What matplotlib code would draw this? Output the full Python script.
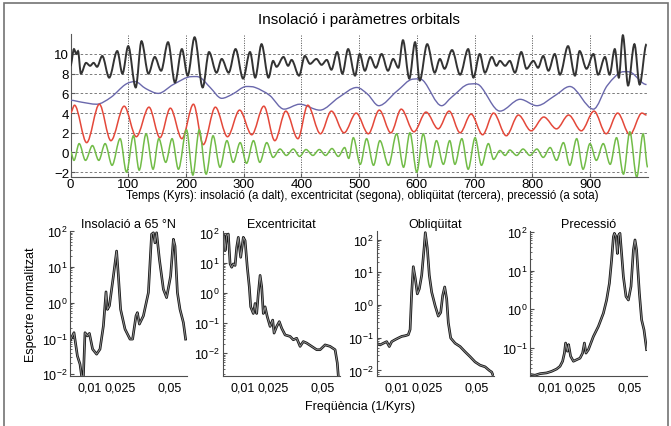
import numpy as np
import matplotlib.pyplot as plt
from matplotlib.patches import Rectangle, PathPatch
from matplotlib.path import Path

plt.rcParams['font.family'] = ['Liberation Sans', 'DejaVu Sans']

# ---- top panel: time series (kyr, offset value) ----
ins_t = [0, 6, 10, 13, 18, 27, 34, 40, 46, 55, 67, 81, 90, 100, 113, 123, 135, 146, 157, 169,
         181, 193, 203, 215, 229, 240, 253, 262, 274, 286, 299, 311, 320, 331, 343, 351, 357, 369,
         377, 383, 396, 406, 415, 426, 435, 444, 452, 462, 471, 481, 493, 501, 510, 519, 529, 539,
         550, 559, 568, 576, 587, 597, 605, 618, 631, 640, 648, 661, 675, 689, 698, 709, 718, 730,
         738, 744, 753, 761, 770, 781, 790, 802, 810, 819, 828, 839, 848, 862, 874, 882, 894, 906,
         914, 926, 934, 943, 950, 957, 966, 977, 986, 998]
ins_v = [8.8, 10.5, 10.0, 10.3, 8.0, 9.1, 8.8, 9.1, 8.7, 9.8, 7.6, 10.3, 8.0, 10.8, 6.6, 11.3, 8.0,
         9.7, 8.3, 11.2, 7.1, 10.5, 7.8, 11.7, 6.6, 10.2, 8.1, 9.5, 8.1, 10.5, 7.5, 10.2, 7.6, 11.0,
         7.6, 9.3, 8.7, 9.7, 8.8, 9.4, 7.8, 9.8, 9.0, 9.5, 8.9, 9.4, 8.4, 10.2, 8.0, 10.5, 7.8, 10.0,
         8.3, 9.7, 8.6, 10.0, 8.3, 9.5, 8.6, 11.4, 7.5, 11.2, 7.3, 11.0, 8.1, 9.5, 8.5, 10.4, 7.9,
         10.5, 7.6, 10.0, 8.1, 9.7, 8.8, 9.3, 8.8, 9.3, 8.1, 10.2, 8.5, 9.3, 8.6, 9.8, 8.3, 10.0, 7.9,
         10.8, 7.8, 10.3, 8.5, 10.0, 7.9, 9.7, 7.9, 10.5, 7.6, 11.9, 6.8, 11.0, 6.9, 11.0]

ecc_t = [0, 20, 45, 70, 95, 112, 130, 152, 178, 210, 225, 242, 262, 280, 305, 320, 345, 370, 397,
         432, 465, 496, 515, 534, 565, 594, 611, 643, 660, 692, 709, 744, 779, 808, 840, 865, 906,
         930, 958, 972, 998]
ecc_v = [5.3, 5.1, 4.9, 5.6, 6.9, 7.2, 6.5, 6.0, 6.9, 7.7, 7.6, 6.6, 5.5, 5.9, 6.7, 6.6, 5.8, 4.4,
         4.9, 4.3, 5.6, 6.6, 5.9, 4.75, 6.2, 7.45, 7.3, 4.75, 5.6, 6.95, 6.8, 4.2, 5.4, 4.75, 5.8,
         6.7, 4.4, 6.8, 8.2, 8.1, 6.9]

obl_t = [0, 7, 28, 50, 70, 93, 114, 136, 155, 173, 193, 213, 230, 251, 272, 293, 314, 335, 354,
         373, 394, 411, 433, 452, 474, 495, 516, 535, 555, 573, 595, 616, 637, 656, 675, 694, 714,
         733, 755, 776, 798, 820, 842, 863, 885, 907, 928, 948, 969, 990, 998]
obl_v = [4.0, 4.8, 1.0, 4.9, 1.2, 4.7, 1.6, 4.6, 1.5, 4.5, 1.4, 4.9, 0.8, 4.6, 1.6, 4.3, 1.8, 4.7,
         1.2, 4.2, 1.4, 4.8, 1.9, 4.2, 2.0, 4.0, 1.9, 4.3, 2.0, 4.4, 2.1, 4.1, 2.4, 4.2, 2.0, 3.9,
         1.8, 4.0, 1.7, 3.8, 2.2, 3.6, 2.4, 3.8, 2.2, 4.2, 1.9, 4.0, 1.8, 4.0, 3.8]

pre_t = [0, 6, 15, 26, 38, 49, 60, 72, 86, 97, 109, 119, 131, 143, 153, 165, 176, 187, 201, 212,
         223, 235, 247, 259, 271, 282, 294, 305, 317, 328, 340, 351, 363, 374, 386, 397, 408, 420,
         431, 442, 453, 464, 475, 482, 490, 502, 513, 525, 536, 551, 565, 577, 588, 600, 611, 623,
         634, 646, 657, 666, 678, 689, 701, 712, 724, 733, 744, 753, 761, 773, 784, 796, 808, 819,
         831, 842, 854, 865, 877, 888, 900, 911, 923, 935, 946, 958, 969, 981, 992, 1000]
pre_v = [0.1, -0.8, 0.9, -0.8, 0.7, -0.8, 0.9, -1.3, 1.4, -2.0, 1.7, -1.8, 1.9, -1.7, 1.4, -1.0,
         1.4, -1.7, 2.3, -2.3, 2.3, -2.2, 1.7, -1.5, 1.2, -1.0, 1.0, -1.1, 1.2, -1.0, 1.0, -0.5,
         0.35, -0.3, 0.35, -0.4, 0.3, -0.3, 0.3, -0.3, 0.4, -0.4, 0.5, -0.6, 1.5, -1.2, 1.4, -1.3,
         1.2, -1.3, 1.9, -1.5, 2.0, -2.0, 1.9, -1.5, 1.2, -1.2, 1.2, -1.2, 1.4, -1.7, 1.5, -1.3,
         0.9, -0.7, 0.2, -0.3, 0.25, -0.3, 0.35, -0.3, 0.35, -0.5, 0.5, -0.8, 1.0, -1.3, 1.4, -1.7,
         0.9, -0.8, 0.9, -1.2, 1.5, -2.2, 2.1, -2.5, 1.9, -1.5]

# ---- spectra (frequency 1/kyr, log10 of normalised power) ----
sp_ins_f = [0.0, 0.0020, 0.0037, 0.0050, 0.0058, 0.0067, 0.0075, 0.0087, 0.0097, 0.0113, 0.0133,
            0.0150, 0.0167, 0.0180, 0.0187, 0.0197, 0.0217, 0.0233, 0.0242, 0.0253, 0.0275, 0.0300,
            0.0313, 0.0330, 0.0337, 0.0347, 0.0367, 0.0392, 0.0408, 0.0417, 0.0425, 0.0433, 0.0447,
            0.0467, 0.0483, 0.0503, 0.0517, 0.0525, 0.0537, 0.0550, 0.0567, 0.0578]
sp_ins_lp = [-1.07, -0.84, -1.49, -1.72, -2.05, -2.05, -0.84, -0.93, -0.86, -1.30, -1.44, -1.30,
             -0.65, 0.30, -0.19, -0.09, 0.74, 1.44, 0.74, -0.19, -0.74, -1.02, -1.02, -0.37, -0.28,
             -0.60, -0.37, 0.28, 1.91, 1.95, 1.67, 1.95, 1.21, 0.37, 0.14, 0.74, 1.77, 1.58, 0.28,
             -0.19, -0.56, -1.02]

sp_ecc_f = [0.0, 0.0007, 0.0012, 0.0020, 0.0028, 0.0037, 0.0045, 0.0053, 0.0062, 0.0070, 0.0078,
            0.0090, 0.0103, 0.0112, 0.0123, 0.0133, 0.0140, 0.0153, 0.0162, 0.0170, 0.0178, 0.0187,
            0.0195, 0.0203, 0.0212, 0.0223, 0.0237, 0.0250, 0.0257, 0.0270, 0.0283, 0.0295, 0.0312,
            0.0337, 0.0353, 0.0370, 0.0387, 0.0403, 0.0420, 0.0445, 0.0470, 0.0487, 0.0512, 0.0537,
            0.0562, 0.0573, 0.0578]
sp_ecc_lp = [1.84, 1.89, 1.40, 1.89, 1.95, 0.96, 0.85, 0.96, 0.91, 1.51, 1.84, 1.18, 1.84, 1.73,
             0.85, 0.20, -0.46, -0.68, -0.35, -0.68, -0.02, 0.58, 0.20, -0.68, -0.46, -0.79, -1.11,
             -0.90, -1.33, -1.11, -0.95, -1.17, -1.39, -1.44, -1.55, -1.50, -1.77, -1.61, -1.66,
             -1.77, -1.88, -1.88, -1.72, -1.77, -1.88, -2.32, -2.75]

sp_obl_f = [0.0, 0.0017, 0.0033, 0.0050, 0.0063, 0.0075, 0.0092, 0.0108, 0.0125, 0.0142, 0.0158,
            0.0167, 0.0175, 0.0183, 0.0193, 0.0203, 0.0213, 0.0225, 0.0237, 0.0243, 0.0253, 0.0263,
            0.0275, 0.0292, 0.0308, 0.0320, 0.0330, 0.0340, 0.0350, 0.0358, 0.0370, 0.0392, 0.0417,
            0.0442, 0.0467, 0.0492, 0.0517, 0.0542, 0.0563, 0.0575, 0.0583]
sp_obl_lp = [-1.17, -1.22, -1.17, -1.12, -1.27, -1.12, -1.06, -1.01, -0.96, -0.94, -0.91, -0.75,
             0.39, 1.17, 0.81, 0.34, 0.49, 0.91, 1.74, 2.21, 1.74, 0.91, 0.39, -0.02, -0.34, -0.23,
             0.29, 0.55, 0.18, -0.54, -1.01, -1.17, -1.27, -1.43, -1.58, -1.74, -1.84, -1.89, -2.00,
             -2.05, -2.17]

sp_pre_f = [0.0, 0.0025, 0.0050, 0.0083, 0.0108, 0.0133, 0.0150, 0.0163, 0.0172, 0.0178, 0.0187,
            0.0193, 0.0203, 0.0217, 0.0233, 0.0250, 0.0263, 0.0272, 0.0280, 0.0292, 0.0317, 0.0342,
            0.0367, 0.0383, 0.0397, 0.0408, 0.0417, 0.0422, 0.0430, 0.0437, 0.0443, 0.0450, 0.0458,
            0.0467, 0.0480, 0.0492, 0.0505, 0.0517, 0.0525, 0.0533, 0.0547, 0.0558, 0.0570, 0.0583]
sp_pre_lp = [-1.68, -1.70, -1.66, -1.64, -1.60, -1.54, -1.47, -1.34, -1.13, -0.87, -1.08, -0.91,
             -1.21, -1.34, -1.30, -1.26, -1.13, -0.87, -1.13, -1.04, -0.70, -0.44, -0.10, 0.24,
             0.67, 1.27, 1.87, 1.96, 1.87, 1.44, 1.91, 1.96, 1.44, 0.84, 0.33, 0.24, 0.59, 1.53,
             1.79, 1.53, 0.41, -0.27, -0.53, -1.04]

spec_titles = ['Insolació a 65 °N', 'Excentricitat', 'Obliqüitat', 'Precessió']
spec_ylims = [(-2.05, 2.0), (-2.75, 2.05), (-2.17, 2.26), (-1.72, 2.02)]
freq_ticks = [0.01, 0.025, 0.05]
freq_labels = ['0,01', '0,025', '0,05']


def smooth_line(ax, t, v, **kw):
    # draw the read points as one smooth Bezier path (flat at the turning points)
    t = np.asarray(t, float)
    v = np.asarray(v, float)
    n = len(t)
    m = np.zeros(n)
    for i in range(1, n - 1):
        if (v[i] - v[i - 1]) * (v[i + 1] - v[i]) > 0:
            m[i] = (v[i + 1] - v[i - 1]) / (t[i + 1] - t[i - 1])
    verts = [(t[0], v[0])]
    codes = [Path.MOVETO]
    for i in range(n - 1):
        d = (t[i + 1] - t[i]) / 3.0
        verts += [(t[i] + d, v[i] + m[i] * d), (t[i + 1] - d, v[i + 1] - m[i + 1] * d),
                  (t[i + 1], v[i + 1])]
        codes += [Path.CURVE4] * 3
    ax.add_patch(PathPatch(Path(verts, codes), fill=False, **kw))


W, H = 671, 427
fig = plt.figure(figsize=(W / 100, H / 100), dpi=100)
fig.add_artist(Rectangle((0.006, -0.02), 0.989, 1.01, transform=fig.transFigure,
                         fill=False, edgecolor='0.45', lw=1.2))

# ---- top panel ----
ax = fig.add_axes([70.5 / W, 1 - 178.1 / H, 577.2 / W, 142.8 / H])
smooth_line(ax, ecc_t, ecc_v, edgecolor='#6a68ac', lw=1.0, zorder=3)
smooth_line(ax, obl_t, obl_v, edgecolor='#e4483a', lw=1.1, zorder=3)
smooth_line(ax, pre_t, pre_v, edgecolor='#72bc48', lw=1.1, zorder=3)
smooth_line(ax, ins_t, ins_v, edgecolor='#333333', lw=1.4, zorder=4)
ax.set_xlim(0, 1000)
ax.set_ylim(-2.5, 12)
ax.set_xticks(range(0, 901, 100))
ax.set_yticks(range(-2, 11, 2))
ax.set_yticklabels(['\u22122', '0', '2', '4', '6', '8', '10'])
ax.xaxis.grid(True, ls=(0, (1, 1.5)), color='0.3', lw=0.7)
ax.yaxis.grid(True, ls=(0, (3, 2.5)), color='0.4', lw=0.6)
for s in ['top', 'right']:
    ax.spines[s].set_visible(False)
ax.spines['left'].set_color('0.35')
ax.spines['bottom'].set_color('0.35')
ax.tick_params(direction='in', length=3, labelsize=9.5, pad=1, color='0.35')
fig.text(359 / W, 1 - 20 / H, 'Insolació i paràmetres orbitals', ha='center', va='center',
         fontsize=11)
fig.text(362 / W, 1 - 196 / H,
         'Temps (Kyrs): insolació (a dalt), excentricitat (segona), obliqüitat (tercera), '
         'precessió (a sota)', ha='center', va='center', fontsize=8.3)

# ---- spectra ----
lefts = [70, 222.7, 376.7, 530]
specs = [(sp_ins_f, sp_ins_lp), (sp_ecc_f, sp_ecc_lp), (sp_obl_f, sp_obl_lp),
         (sp_pre_f, sp_pre_lp)]
for i, (f, lp) in enumerate(specs):
    a = fig.add_axes([lefts[i] / W, 1 - 377 / H, 117 / W, 145 / H])
    p = np.power(10.0, lp)
    a.semilogy(f, p, color='#151515', lw=1.9, solid_joinstyle='round')
    a.semilogy(f, p, color='#8e8e8e', lw=0.7)
    a.set_xlim(0, 0.0585)
    lo, hi = spec_ylims[i]
    a.set_ylim(10 ** lo, 10 ** hi)
    a.set_xticks(freq_ticks)
    a.set_xticklabels(freq_labels)
    if i == 3:
        a.set_yticks([1e-1, 1e0, 1e1, 1e2])
    else:
        a.set_yticks([1e-2, 1e-1, 1e0, 1e1, 1e2])
    for s in ['top', 'right']:
        a.spines[s].set_visible(False)
    a.spines['left'].set_color('0.3')
    a.spines['bottom'].set_color('0.3')
    a.tick_params(which='both', direction='in', labelsize=9, pad=2, color='0.3')
    a.tick_params(which='major', length=3)
    a.tick_params(which='minor', length=1.5)
    a.tick_params(axis='x', length=0, pad=4)
    a.set_title(spec_titles[i], fontsize=9, pad=3)
    if i == 0:
        a.set_ylabel('Espectre normalitzat', fontsize=9, labelpad=3)

fig.text(360 / W, 1 - 407 / H, 'Freqüència (1/Kyrs)', ha='center', va='center', fontsize=9)

fig.savefig('out.png', dpi=100)
